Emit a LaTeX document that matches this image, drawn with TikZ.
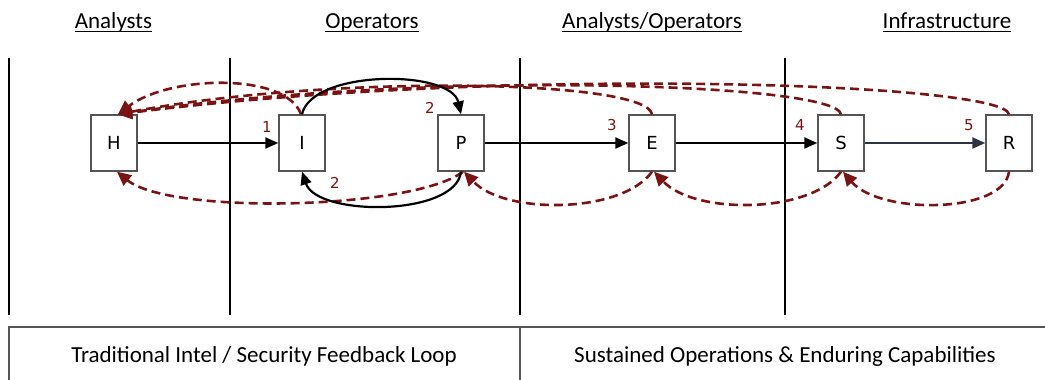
\documentclass[tikz,border=0pt]{standalone}
\usepackage{fontspec}
\setmainfont{Carlito}
\newfontfamily\boxfont{DejaVu Sans}
\usetikzlibrary{arrows.meta}
\definecolor{loopred}{RGB}{122,20,20}
\definecolor{boxgray}{RGB}{85,85,85}
\definecolor{slate}{RGB}{45,52,64}
\tikzset{
  stage/.style={draw=boxgray, line width=1.4pt, fill=white, minimum width=46pt, minimum height=56pt, inner sep=0pt, font=\boxfont\fontsize{18}{20}\selectfont},
  heading/.style={anchor=base, inner sep=0pt, font=\fontsize{23}{26}\selectfont},
  caption/.style={anchor=base, inner sep=0pt, font=\fontsize{23}{26}\selectfont},
  steplabel/.style={text=loopred, inner sep=0pt, font=\boxfont\fontsize{15}{17}\selectfont},
  lane/.style={line width=2.2pt, black},
  flow/.style={line width=2.2pt, black, -{Triangle[length=13pt,width=11pt]}},
  feedback/.style={line width=2.6pt, loopred, dash pattern=on 9pt off 5pt, -{Triangle[length=14pt,width=13pt]}},
}
\begin{document}
\begin{tikzpicture}[x=1pt,y=-1pt]
\useasboundingbox (0,0) rectangle (1045,380);

% column headings
\node[heading] (hA) at (113.5,28) {Analysts};
\node[heading] (hO) at (372,28) {Operators};
\node[heading] (hAO) at (652,28) {Analysts/Operators};
\node[heading] (hInf) at (947,28) {Infrastructure};
\foreach \h in {hA,hO,hAO,hInf}
  \draw[line width=1.8pt] ([yshift=-3.5pt]\h.base west) -- ([yshift=-3.5pt]\h.base east);

% lane separators
\foreach \x in {9,230,520,785}
  \draw[lane] (\x,58) -- (\x,315);

% bottom summary band
\draw[boxgray, line width=1.4pt] (9,390) -- (9,327) -- (1060,327);
\draw[boxgray, line width=1.2pt] (520,327) -- (520,390);
\node[caption] (c1) at (264,362) {Traditional Intel / Security Feedback Loop};
\node[caption] (c2) at (785,362) {Sustained Operations \& Enduring Capabilities};

% stages
\node[stage] (H) at (114,143) {H};
\node[stage] (I) at (302,143) {I};
\node[stage] (P) at (461,143) {P};
\node[stage] (E) at (652,143) {E};
\node[stage] (S) at (841,143) {S};
\node[stage] (R) at (1009,143) {R};

% feedback to H along the top
\draw[feedback] ([xshift=-1pt]I.north) .. controls +(-15,-42) and (170,75) .. ([xshift=4pt]H.north);
\draw[feedback] (E.north) .. controls +(-5,-35) and (330,74) .. ([xshift=4pt]H.north);
\draw[feedback] (S.north) .. controls +(-5,-32) and (420,70) .. ([xshift=4pt]H.north);
\draw[feedback] (R.north) .. controls +(-5,-32) and (500,66) .. ([xshift=4pt]H.north);

% feedback along the bottom
\draw[feedback] ([xshift=2pt]P.south) .. controls +(-50,38) and (170,215) .. ([xshift=3pt]H.south);
\draw[feedback] (E.south) .. controls +(-30,42) and (505,215) .. ([xshift=3pt]P.south);
\draw[feedback] (S.south) .. controls +(-30,42) and (695,215) .. ([xshift=2pt]E.south);
\draw[feedback] (R.south) .. controls +(-5,42) and (880,215) .. ([xshift=2pt]S.south);

% forward flow
\draw[flow] (H.east) -- (I.west);
\draw[flow] (I.north) .. controls +(10,-45) and +(-10,-45) .. (P.north);
\draw[flow] (P.south) .. controls +(-5,45) and +(15,45) .. (I.south);
\draw[flow] (P.east) -- (E.west);
\draw[flow] (E.east) -- (S.west);
\draw[flow, slate] (S.east) -- (R.west);

% step numbers
\node[steplabel] (n1) at (267,127) {1};
\node[steplabel] (n2a) at (430,108) {2};
\node[steplabel] (n2b) at (335,183) {2};
\node[steplabel] (n3) at (612,125) {3};
\node[steplabel] (n4) at (800,125) {4};
\node[steplabel] (n5) at (969,125) {5};
\end{tikzpicture}
\end{document}
